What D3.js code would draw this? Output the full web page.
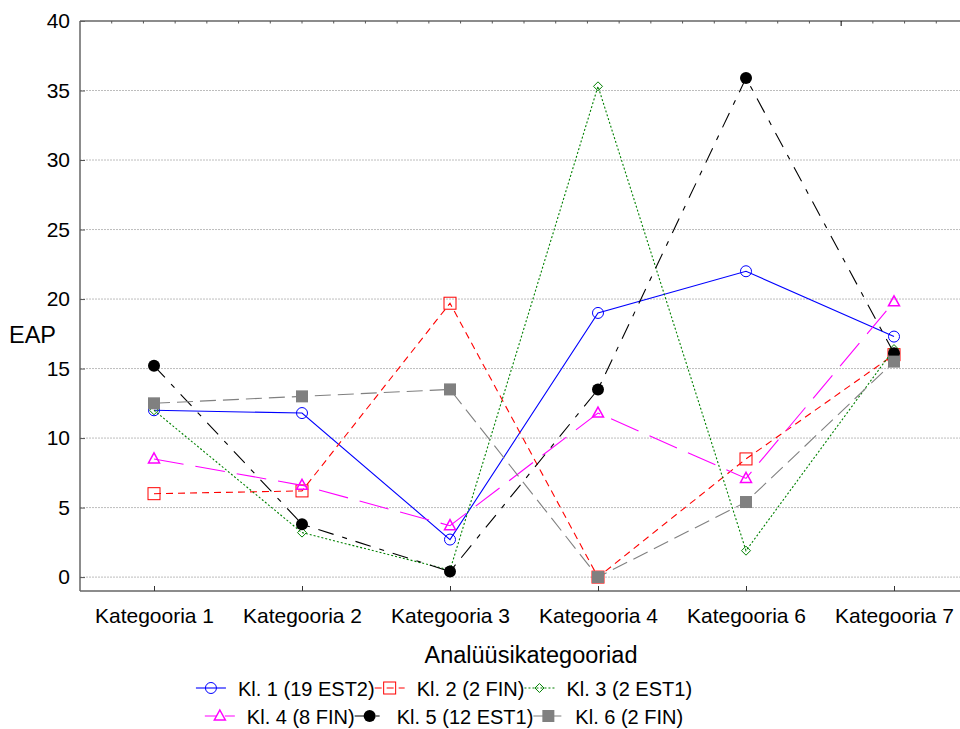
<!DOCTYPE html>
<html>
<head>
<meta charset="utf-8">
<script src="https://cdn.jsdelivr.net/npm/d3@7"></script>
<style>
  html, body { margin: 0; padding: 0; background: #fff; }
  svg { display: block; font-family: "Liberation Sans", Arial, sans-serif; }
</style>
</head>
<body>
<svg id="chart" width="960" height="729"></svg>
<script>
const categories = ["Kategooria 1", "Kategooria 2", "Kategooria 3", "Kategooria 4", "Kategooria 6", "Kategooria 7"];
const yTicks = [0, 5, 10, 15, 20, 25, 30, 35, 40];
const seriesNames = ["Kl. 1 (19 EST2)", "Kl. 2 (2 FIN)", "Kl. 3 (2 EST1)", "Kl. 4 (8 FIN)", "Kl. 5 (12 EST1)", "Kl. 6 (2 FIN)"];
const kl1 = [12.0, 11.8, 2.7, 19.0, 22.0, 17.3];
const kl2 = [6.0, 6.2, 19.7, 0.0, 8.5, 16.0];
const kl3 = [12.0, 3.2, 0.5, 35.3, 1.9, 16.4];
const kl4 = [8.5, 6.6, 3.7, 11.8, 7.1, 19.8];
const kl5 = [15.2, 3.8, 0.4, 13.5, 35.9, 16.1];
const kl6 = [12.5, 13.0, 13.5, 0.0, 5.4, 15.5];

const seriesValues = [kl1, kl2, kl3, kl4, kl5, kl6];
const styles = [
  {color: "#0000ff", dash: null, marker: "circle", fill: "none"},
  {color: "#ff0000", dash: "7,5", marker: "square", fill: "none"},
  {color: "#008000", dash: "2,2", marker: "diamond", fill: "none"},
  {color: "#ff00ff", dash: "30,12", marker: "triangle", fill: "none"},
  {color: "#000000", dash: "16,9,5,9", marker: "dot", fill: "#000"},
  {color: "#808080", dash: "16,7", marker: "fsquare", fill: "#808080"}
];

const svg = d3.select("#chart");
const pLeft = 80, pRight = 968, pTop = 21, pBottom = 591;
const FONT = "Liberation Sans, Arial, sans-serif";

const x = d3.scalePoint().domain(categories).range([pLeft, pRight]).padding(0.5);
const y = d3.scaleLinear().domain([-1, 40]).range([pBottom, pTop]);

// gridlines
svg.append("g").selectAll("line").data(yTicks.filter(t => t < 40)).join("line")
  .attr("x1", pLeft).attr("x2", 960)
  .attr("y1", d => y(d)).attr("y2", d => y(d))
  .attr("stroke", "#bdbdbd").attr("stroke-width", 1).attr("stroke-dasharray", "2,1");

// y axis
const yAxis = svg.append("g").attr("transform", `translate(${pLeft},0)`)
  .call(d3.axisLeft(y).tickValues(yTicks).tickSize(-5).tickPadding(10).tickFormat(d3.format("d")));
yAxis.select(".domain").attr("stroke", "#666").attr("stroke-width", 1.5).attr("d", `M0,${pTop}V${pBottom}`);
yAxis.selectAll(".tick line").attr("stroke", "#555");
yAxis.selectAll("text").attr("font-size", 21).attr("fill", "#000").attr("font-family", FONT);

// x axis
const xAxis = svg.append("g").attr("transform", `translate(0,${pBottom})`)
  .call(d3.axisBottom(x).tickSize(-5).tickPadding(17));
xAxis.select(".domain").attr("stroke", "#666").attr("stroke-width", 1.5).attr("d", `M${pLeft},0H960`);
xAxis.selectAll(".tick line").attr("stroke", "#333");
xAxis.selectAll("text").attr("font-size", 21).attr("fill", "#000").attr("font-family", FONT);

// top frame line with minor ticks
svg.append("line").attr("x1", pLeft).attr("x2", 960).attr("y1", pTop).attr("y2", pTop)
  .attr("stroke", "#666").attr("stroke-width", 1.5);
const topStep = (pRight - pLeft) / 28;
svg.append("g").selectAll("line").data(d3.range(1, 28)).join("line")
  .attr("x1", d => pLeft + d * topStep).attr("x2", d => pLeft + d * topStep)
  .attr("y1", pTop).attr("y2", d => pTop + (d === 24 ? 5 : 2.5))
  .attr("stroke", d => d === 24 ? "#000" : "#555").attr("stroke-width", 1);

// axis titles
svg.append("text").attr("x", 9).attr("y", 343).attr("font-size", 23.5).text("EAP");
svg.append("text").attr("x", 531).attr("y", 663).attr("text-anchor", "middle").attr("font-size", 23.5).text("Analüüsikategooriad");

function drawMarker(g, type, cx, cy, color, fill) {
  if (type === "circle") {
    g.append("circle").attr("cx", cx).attr("cy", cy).attr("r", 5.5).attr("fill", "none").attr("stroke", color).attr("stroke-width", 1);
  } else if (type === "square") {
    g.append("rect").attr("x", cx - 6).attr("y", cy - 6).attr("width", 12).attr("height", 12).attr("fill", "none").attr("stroke", color).attr("stroke-width", 1);
  } else if (type === "diamond") {
    g.append("path").attr("d", `M${cx},${cy - 4.5}L${cx + 4.5},${cy}L${cx},${cy + 4.5}L${cx - 4.5},${cy}Z`).attr("fill", "none").attr("stroke", color).attr("stroke-width", 1);
  } else if (type === "triangle") {
    g.append("path").attr("d", `M${cx},${cy - 6}L${cx + 5.5},${cy + 4}L${cx - 5.5},${cy + 4}Z`).attr("fill", "none").attr("stroke", color).attr("stroke-width", 1.5);
  } else if (type === "dot") {
    g.append("circle").attr("cx", cx).attr("cy", cy).attr("r", 6).attr("fill", fill);
  } else if (type === "fsquare") {
    g.append("rect").attr("x", cx - 6).attr("y", cy - 6).attr("width", 12).attr("height", 12).attr("fill", fill);
  }
}

const line = d3.line().x((d, i) => x(categories[i])).y(d => y(d));

seriesValues.forEach((vals, si) => {
  const st = styles[si];
  const g = svg.append("g");
  g.append("path").datum(vals).attr("d", line).attr("fill", "none")
    .attr("stroke", st.color).attr("stroke-width", 1.1)
    .attr("stroke-dasharray", st.dash);
  vals.forEach((v, i) => drawMarker(g, st.marker, x(categories[i]), y(v), st.color, st.fill));
});

// legend
const rows = [[0, 1, 2], [3, 4, 5]];
const rowY = [688, 716];
const legendDash = [null, "7,5", "2,2", "12,8", "13,8,4,8", "12,4"];
const sampleW = 30, gapW = 12, centerX = 444, LFS = 20;
rows.forEach((row, ri) => {
  const g = svg.append("g");
  const widths = row.map(si => {
    const t = g.append("text").attr("font-size", LFS).text(seriesNames[si]);
    const w = t.node().getComputedTextLength();
    t.remove();
    return w;
  });
  const total = d3.sum(widths) + row.length * (sampleW + gapW);
  let cx = centerX - total / 2;
  row.forEach((si, k) => {
    const st = styles[si];
    const yy = rowY[ri];
    g.append("line").attr("x1", cx).attr("x2", cx + sampleW).attr("y1", yy).attr("y2", yy)
      .attr("stroke", st.color).attr("stroke-width", 1.1).attr("stroke-dasharray", legendDash[si]);
    drawMarker(g, st.marker, cx + sampleW / 2, yy, st.color, st.fill);
    g.append("text").attr("x", cx + sampleW + gapW).attr("y", yy + 7.5).attr("font-size", LFS).text(seriesNames[si]);
    cx += sampleW + gapW + widths[k];
  });
});
</script>
</body>
</html>
